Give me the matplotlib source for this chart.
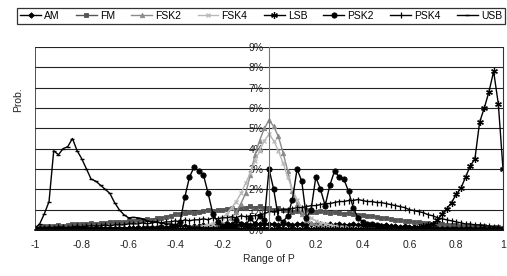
import numpy as np
import matplotlib
matplotlib.use("Agg")
import matplotlib.pyplot as plt

plt.rcParams['font.family'] = ['Liberation Sans', 'DejaVu Sans']

# Range of P categories (-1 .. 1, step 0.02)
p_range = np.round(np.linspace(-1, 1, 101), 2)

# Probabilities in percent, grouped by 10 points (last group 11)
AM = [0.05]*10 + [0.05]*10 + [0.1]*10 + \
     [0.15, 0.15, 0.2, 0.15, 0.2, 0.2, 0.25, 0.2, 0.25, 0.2] + \
     [0.25, 0.2, 0.3, 0.25, 0.3, 0.3, 0.25, 0.3, 0.3, 0.3] + \
     [0.3, 0.3, 0.25, 0.3, 0.3, 0.25, 0.3, 0.3, 0.25, 0.3] + \
     [0.3, 0.3, 0.25, 0.3, 0.25, 0.3, 0.25, 0.25, 0.3, 0.25] + \
     [0.25, 0.2, 0.25, 0.2, 0.2, 0.25, 0.2, 0.2, 0.15, 0.2] + \
     [0.15, 0.15, 0.1, 0.15, 0.1, 0.1, 0.1, 0.1, 0.05, 0.05] + \
     [0.05]*11

FM = [0.1, 0.15, 0.2, 0.2, 0.2, 0.25, 0.2, 0.25, 0.3, 0.3] + \
     [0.3, 0.3, 0.35, 0.3, 0.35, 0.35, 0.4, 0.4, 0.4, 0.4] + \
     [0.45, 0.45, 0.5, 0.5, 0.55, 0.5, 0.6, 0.6, 0.65, 0.7] + \
     [0.8, 0.8, 0.85, 0.9, 0.85, 0.9, 0.95, 1.0, 0.95, 1.0] + \
     [1.0, 1.05, 1.1, 1.0, 1.1, 1.1, 1.2, 1.1, 1.2, 1.1] + \
     [1.1, 1.0, 1.1, 1.0, 1.0, 0.9, 0.95, 0.9, 1.0, 0.9] + \
     [0.9, 0.95, 0.9, 0.85, 0.9, 0.85, 0.8, 0.85, 0.8, 0.75] + \
     [0.75, 0.7, 0.7, 0.65, 0.6, 0.6, 0.55, 0.5, 0.5, 0.45] + \
     [0.45, 0.4, 0.4, 0.35, 0.35, 0.3, 0.3, 0.3, 0.25, 0.25] + \
     [0.25, 0.2, 0.2, 0.2, 0.2, 0.2, 0.2, 0.15, 0.15, 0.15, 0.1]

FSK2 = [0.05]*30 + \
       [0.05, 0.05, 0.1, 0.1, 0.1, 0.1, 0.15, 0.15, 0.2, 0.2] + \
       [0.3, 0.4, 0.6, 0.9, 1.3, 1.8, 2.7, 3.7, 4.4, 5.0] + \
       [5.4, 5.1, 4.6, 3.8, 2.9, 1.9, 1.3, 0.8, 0.5, 0.35] + \
       [0.25, 0.2, 0.15, 0.15, 0.1, 0.1, 0.1, 0.1, 0.05, 0.05] + \
       [0.05]*31

FSK4 = [0.05]*30 + \
       [0.05, 0.1, 0.1, 0.1, 0.15, 0.15, 0.2, 0.25, 0.3, 0.4] + \
       [0.6, 0.8, 1.1, 1.4, 1.8, 2.3, 2.8, 3.4, 3.9, 4.4] + \
       [4.7, 4.4, 3.9, 3.3, 2.6, 2.0, 1.5, 1.1, 0.8, 0.6] + \
       [0.45, 0.35, 0.3, 0.25, 0.2, 0.15, 0.15, 0.1, 0.1, 0.1] + \
       [0.05]*31

LSB = [0.05]*80 + \
      [0.1, 0.1, 0.15, 0.2, 0.25, 0.3, 0.5, 0.8, 1.05, 1.35] + \
      [1.75, 2.05, 2.6, 3.15, 3.5, 5.3, 6.0, 6.8, 7.8, 6.2, 3.0]

PSK2 = [0.05]*20 + \
       [0.05, 0.05, 0.1, 0.05, 0.1, 0.1, 0.1, 0.15, 0.1, 0.15] + \
       [0.2, 0.4, 1.6, 2.6, 3.1, 2.9, 2.7, 1.8, 0.8, 0.4] + \
       [0.2, 0.3, 0.2, 0.5, 0.3, 0.2, 0.6, 0.3, 0.7, 0.5] + \
       [3.0, 2.0, 0.6, 0.4, 0.7, 1.5, 3.0, 2.4, 0.6, 1.0] + \
       [2.6, 2.0, 1.2, 2.2, 2.9, 2.6, 2.5, 1.9, 1.1, 0.6] + \
       [0.4, 0.3, 0.3, 0.25, 0.2, 0.2, 0.15, 0.15, 0.1, 0.1] + \
       [0.1, 0.1, 0.05, 0.05, 0.05, 0.05, 0.05, 0.05, 0.05, 0.05] + \
       [0.05]*11

PSK4 = [0.1, 0.1, 0.1, 0.15, 0.1, 0.15, 0.15, 0.1, 0.15, 0.2] + \
       [0.15, 0.2, 0.2, 0.2, 0.2, 0.25, 0.2, 0.25, 0.25, 0.25] + \
       [0.3, 0.3, 0.3, 0.35, 0.3, 0.35, 0.4, 0.35, 0.4, 0.4] + \
       [0.45, 0.4, 0.5, 0.45, 0.5, 0.5, 0.55, 0.5, 0.6, 0.55] + \
       [0.6, 0.6, 0.65, 0.6, 0.7, 0.65, 0.7, 0.7, 0.75, 0.8] + \
       [0.9, 0.9, 0.95, 1.0, 1.0, 1.05, 1.1, 1.1, 1.15, 1.2] + \
       [1.2, 1.25, 1.3, 1.3, 1.35, 1.4, 1.4, 1.45, 1.45, 1.5] + \
       [1.45, 1.4, 1.4, 1.35, 1.35, 1.3, 1.25, 1.2, 1.15, 1.1] + \
       [1.0, 0.95, 0.9, 0.85, 0.75, 0.7, 0.6, 0.55, 0.5, 0.45] + \
       [0.4, 0.35, 0.3, 0.3, 0.25, 0.25, 0.2, 0.2, 0.15, 0.15, 0.1]

USB = [0.1, 0.3, 0.8, 1.4, 3.9, 3.7, 4.0, 4.1, 4.5, 3.9] + \
      [3.5, 3.0, 2.5, 2.4, 2.2, 2.0, 1.8, 1.35, 1.0, 0.75] + \
      [0.6, 0.62, 0.6, 0.55, 0.45, 0.4, 0.4, 0.35, 0.3, 0.3] + \
      [0.25, 0.2, 0.2, 0.15, 0.15, 0.15, 0.1, 0.1, 0.1, 0.1] + \
      [0.1, 0.15, 0.1, 0.1, 0.05, 0.1, 0.1, 0.05, 0.1, 0.1] + \
      [0.1, 0.05, 0.1, 0.1, 0.05, 0.1, 0.05, 0.05, 0.1, 0.05] + \
      [0.05]*41

series_names = ["AM", "FM", "FSK2", "FSK4", "LSB", "PSK2", "PSK4", "USB"]
series_vals = [AM, FM, FSK2, FSK4, LSB, PSK2, PSK4, USB]
x_ticks = [-1, -0.8, -0.6, -0.4, -0.2, 0, 0.2, 0.4, 0.6, 0.8, 1]
x_tick_labels = ["-1", "-0.8", "-0.6", "-0.4", "-0.2", "0", "0.2", "0.4", "0.6", "0.8", "1"]
y_ticks = list(range(0, 10))
y_tick_labels = [f"{v}%" for v in y_ticks]

styles = {
    "AM":   dict(color="black",   marker="D", ms=2.8, mew=0.6),
    "FM":   dict(color="#555555", marker="s", ms=3.0, mew=0.6),
    "FSK2": dict(color="#8a8a8a", marker="^", ms=3.2, mew=0.6),
    "FSK4": dict(color="#b8b8b8", marker="x", ms=3.2, mew=0.9),
    "LSB":  dict(color="black",   marker=(6, 2, 0), ms=4.8, mew=0.9),
    "PSK2": dict(color="black",   marker="o", ms=3.8, mew=0.6),
    "PSK4": dict(color="black",   marker="|", ms=4.2, mew=0.9),
    "USB":  dict(color="black",   marker="_", ms=3.2, mew=1.0),
}

fig = plt.figure(figsize=(5.07, 2.76), dpi=100)
ax = fig.add_axes([35/507, 46/276, 468/507, 183/276])

handles = []
for name, vals in zip(series_names, series_vals):
    st = styles[name]
    h, = ax.plot(p_range, vals, color=st["color"], lw=1.0, marker=st["marker"],
                 markersize=st["ms"], markeredgewidth=st["mew"], label=name)
    handles.append(h)

ax.set_xlim(-1, 1)
ax.set_ylim(0, 9)
ax.set_xticks(x_ticks)
ax.set_xticklabels(x_tick_labels)
ax.set_yticks(y_ticks)
ax.set_yticklabels(y_tick_labels)
ax.yaxis.grid(True, color="#222222", lw=0.8)
ax.set_axisbelow(True)

ax.spines['left'].set_position(('data', 0))
ax.spines['left'].set_color('#777777')
ax.spines['left'].set_linewidth(0.8)
ax.spines['top'].set_visible(False)
ax.spines['right'].set_color('#333333')
ax.spines['bottom'].set_color('#111111')
ax.spines['bottom'].set_linewidth(1.2)
ax.axvline(-1, color='#333333', lw=1.2)

ax.tick_params(axis='x', length=0, pad=7, labelsize=7.5, colors='#222222')
ax.tick_params(axis='y', length=0, pad=4, labelsize=7.5, colors='#222222')

ax.set_xlabel("Range of P", fontsize=7.5, labelpad=3, color='#222222')
fig.text(18/507, 1 - 100/276, "Prob.", rotation=90, ha='center', va='center',
         fontsize=7.5, color='#222222')

leg = fig.legend(handles=handles, loc='center', ncol=8, mode='expand',
                 bbox_to_anchor=(17/507, 1 - 27/276, 488/507, 22/276),
                 fontsize=7.5, handlelength=2.0, handletextpad=0.3,
                 columnspacing=0.6, borderaxespad=0, frameon=True, fancybox=False,
                 borderpad=0.3)
leg.get_frame().set_edgecolor('black')
leg.get_frame().set_linewidth(0.9)

fig.savefig("out.png", dpi=100)
